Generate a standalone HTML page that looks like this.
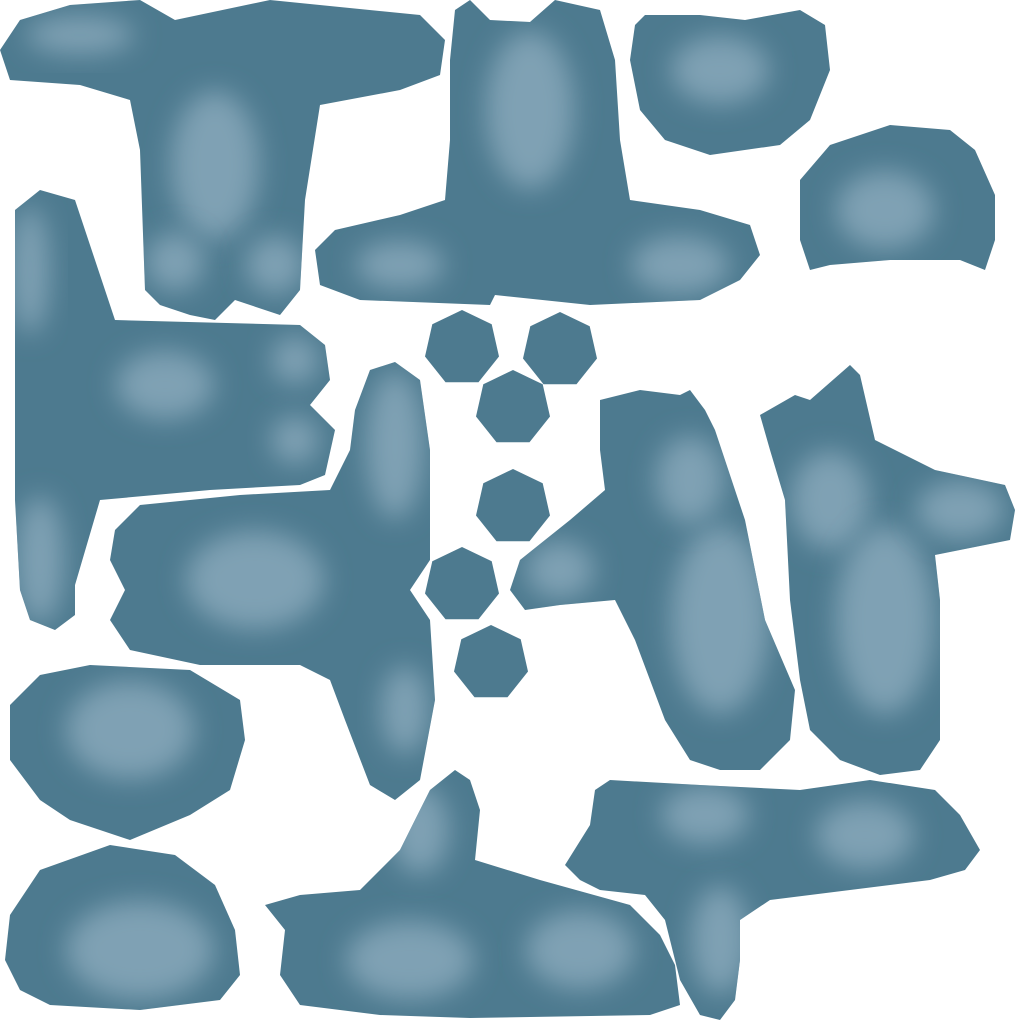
<!DOCTYPE html>
<html><head><meta charset="utf-8"><style>html,body{margin:0;padding:0;background:#fff}svg{display:block}</style></head>
<body>
<svg id="uv" width="1024" height="1024" viewBox="0 0 1024 1024" xmlns="http://www.w3.org/2000/svg">
<defs><filter id="b" x="-50%" y="-50%" width="200%" height="200%"><feGaussianBlur stdDeviation="13"/></filter></defs>
<rect width="1024" height="1024" fill="#fff"/>
</svg>
<script>
const shapes = [
 {n:'torso-front',p:[[0,50],[20,20],[70,5],[140,0],[175,20],[270,0],[420,15],[445,40],[440,75],[400,90],[320,105],[305,200],[300,290],[280,315],[235,300],[215,320],[190,315],[160,305],[145,290],[140,150],[130,100],[80,85],[10,80]],l:[[215,165,40,70],[175,262,25,25],[275,265,25,25],[80,35,50,15]]},
 {n:'torso-back',p:[[455,10],[470,0],[490,20],[530,22],[555,0],[600,10],[615,60],[620,140],[630,200],[700,210],[750,225],[760,255],[740,280],[700,300],[590,305],[495,295],[490,305],[360,300],[320,285],[315,250],[335,230],[400,215],[445,200],[450,140],[450,60]],l:[[530,110,40,75],[680,265,45,25],[400,265,40,20]]},
 {n:'head-top-right',p:[[635,25],[645,15],[700,15],[745,20],[800,10],[825,25],[830,70],[810,120],[780,145],[710,155],[665,140],[640,110],[630,60]],l:[[720,70,45,30]]},
 {n:'head-right',p:[[800,180],[830,145],[890,125],[950,130],[975,150],[995,195],[995,240],[985,270],[960,260],[890,260],[830,265],[810,270],[800,240]],l:[[885,210,45,35]]},
 {n:'body-left',p:[[15,210],[40,190],[75,200],[95,260],[115,320],[300,325],[325,345],[330,380],[310,405],[335,430],[325,475],[300,485],[210,490],[100,500],[75,585],[75,615],[55,630],[30,620],[20,590],[15,500],[15,350]],l:[[165,385,45,30],[295,360,20,20],[295,440,20,20],[30,270,15,60],[40,560,20,60]]},
 {n:'body-middle',p:[[355,410],[370,370],[395,362],[420,380],[430,450],[430,560],[410,590],[430,620],[435,700],[420,780],[395,800],[370,785],[345,720],[330,680],[300,665],[200,665],[130,650],[110,620],[125,590],[110,560],[115,530],[140,505],[240,495],[330,490],[350,450]],l:[[255,580,65,45],[395,445,25,70],[405,710,20,40]]},
 {n:'leg-right-a',p:[[600,400],[640,390],[680,395],[690,390],[705,410],[715,430],[745,520],[765,620],[795,690],[790,740],[760,770],[720,770],[690,760],[665,720],[635,640],[615,600],[560,605],[525,610],[510,590],[520,560],[570,520],[605,490],[600,450]],l:[[720,620,45,90],[560,570,30,25],[690,480,30,40]]},
 {n:'leg-right-b',p:[[760,415],[795,395],[810,400],[850,365],[860,375],[875,440],[935,470],[1005,485],[1015,510],[1010,540],[960,550],[935,555],[940,600],[940,740],[920,770],[880,775],[840,760],[810,730],[800,680],[790,600],[785,500],[770,450]],l:[[830,500,35,45],[885,620,45,90],[960,510,40,25]]},
 {n:'head-bottom-left',p:[[10,705],[40,675],[90,665],[190,670],[215,685],[240,700],[245,740],[230,790],[190,815],[130,840],[70,820],[40,800],[10,760]],l:[[130,730,60,45]]},
 {n:'head-bottom',p:[[10,915],[40,870],[110,845],[175,855],[215,885],[235,930],[240,975],[220,1000],[140,1010],[50,1005],[20,990],[5,960]],l:[[140,950,70,45]]},
 {n:'body-bottom',p:[[265,905],[300,895],[360,890],[400,850],[430,790],[455,770],[470,780],[480,810],[475,860],[540,880],[630,905],[660,935],[675,965],[680,1005],[650,1015],[470,1018],[380,1015],[300,1005],[280,975],[285,930]],l:[[410,960,60,35],[580,950,50,35],[420,830,25,40]]},
 {n:'body-bottom-right',p:[[565,865],[590,825],[595,790],[610,780],[700,785],[800,790],[870,780],[935,790],[960,815],[980,850],[965,870],[930,880],[850,890],[770,900],[740,920],[740,960],[735,1000],[720,1020],[700,1015],[680,980],[665,920],[645,895],[600,890],[580,880]],l:[[705,815,40,25],[865,835,45,30],[720,940,25,50]]}
];
const hepCenters = [[462,348],[560,350],[513,408],[513,507],[462,585],[491,663]];
const NS='http://www.w3.org/2000/svg';
const svg=document.getElementById('uv');
const defs=svg.querySelector('defs');
shapes.forEach((s,i)=>{
  const cp=document.createElementNS(NS,'clipPath');cp.setAttribute('id','c'+i);
  const pp=document.createElementNS(NS,'polygon');pp.setAttribute('points',s.p.map(q=>q.join(',')).join(' '));
  cp.appendChild(pp);defs.appendChild(cp);
  const g=document.createElementNS(NS,'g');
  
  
  const poly=document.createElementNS(NS,'polygon');
  poly.setAttribute('points',s.p.map(q=>q.join(',')).join(' '));
  poly.setAttribute('fill','#4d7a8f');
  g.appendChild(poly);
  const lg=document.createElementNS(NS,'g');lg.setAttribute('clip-path','url(#c'+i+')');
  s.l.forEach(e=>{
    const el=document.createElementNS(NS,'ellipse');
    
    
    el.setAttribute('cx',e[0]);el.setAttribute('cy',e[1]);el.setAttribute('rx',e[2]+4);el.setAttribute('ry',e[3]+4);
    el.setAttribute('fill','#7fa1b4');el.setAttribute('filter','url(#b)');
    lg.appendChild(el);
  });
  g.appendChild(lg);svg.appendChild(g);
});
hepCenters.forEach(c=>{
  const pts=[];for(let k=0;k<7;k++){const a=-Math.PI/2+k*2*Math.PI/7;pts.push((c[0]+38*Math.cos(a)).toFixed(1)+','+(c[1]+38*Math.sin(a)).toFixed(1));}
  const h=document.createElementNS(NS,'polygon');
  
  
  h.setAttribute('points',pts.join(' '));h.setAttribute('fill','#4d7a8f');
  svg.appendChild(h);
});
</script>
</body></html>
